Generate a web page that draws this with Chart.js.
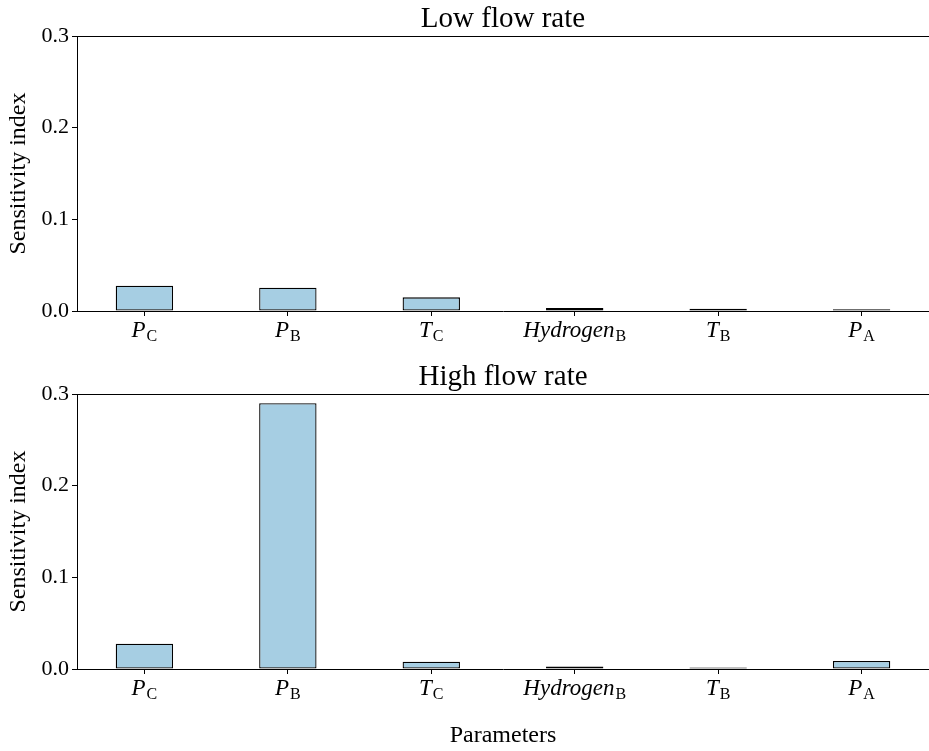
<!DOCTYPE html>
<html>
<head>
<meta charset="utf-8">
<script src="https://cdn.jsdelivr.net/npm/chart.js@4.4.1/dist/chart.umd.min.js"></script>
<style>
  html, body { margin: 0; padding: 0; background: #fff; }
  #wrap { position: relative; width: 929px; height: 751px; }
  #wrap canvas { position: absolute; left: 0; }
</style>
</head>
<body>
<div id="wrap">
  <canvas id="lowChart" width="929" height="360" style="top:0"></canvas>
  <canvas id="highChart" width="929" height="391" style="top:360px"></canvas>
</div>
<script>
// parameter names: italic symbol + roman subscript
const symbols = ['P', 'P', 'T', 'Hydrogen', 'T', 'P'];
const subscripts = ['C', 'B', 'C', 'B', 'B', 'A'];

// sensitivity indices
const lowFlow = [0.0276, 0.0254, 0.0149, 0.0033, 0.0025, 0.0020];
const highFlow = [0.0276, 0.2900, 0.0080, 0.0028, 0.0017, 0.0087];

const yTicks = [0, 0.1, 0.2, 0.3];

const FONT = '"Liberation Serif", "Times New Roman", serif';
const BAR_COLOR = '#a6cee3';

// titles, top spine, axis labels and subscripted tick labels
const decor = {
  id: 'decor',
  afterDraw(chart, args, opts) {
    const { ctx, chartArea: a, scales } = chart;
    ctx.save();
    ctx.fillStyle = '#000';
    ctx.strokeStyle = '#000';

    // top spine
    ctx.lineWidth = 1;
    ctx.beginPath();
    ctx.moveTo(a.left, a.top + 0.5);
    ctx.lineTo(a.right, a.top + 0.5);
    ctx.stroke();

    // title
    ctx.font = '29px ' + FONT;
    ctx.textAlign = 'center';
    ctx.textBaseline = 'alphabetic';
    ctx.fillText(opts.title, (a.left + a.right) / 2, a.top - 9);

    // y label
    ctx.save();
    ctx.translate(25, (a.top + a.bottom) / 2);
    ctx.rotate(-Math.PI / 2);
    ctx.font = '24px ' + FONT;
    ctx.fillText('Sensitivity index', 0, 0);
    ctx.restore();

    // x tick labels
    const x = scales.x;
    symbols.forEach((s, i) => {
      ctx.font = 'italic 23px ' + FONT;
      const w1 = ctx.measureText(s).width;
      ctx.font = '16px ' + FONT;
      const w2 = ctx.measureText(subscripts[i]).width;
      const left = x.getPixelForValue(i) - (w1 + w2 + 1) / 2;
      ctx.textAlign = 'left';
      ctx.font = 'italic 23px ' + FONT;
      ctx.fillText(s, left, a.bottom + 26);
      ctx.font = '16px ' + FONT;
      ctx.fillText(subscripts[i], left + w1 + 1, a.bottom + 30);
    });

    // x label
    if (opts.xlabel) {
      ctx.textAlign = 'center';
      ctx.font = '24px ' + FONT;
      ctx.fillText(opts.xlabel, (a.left + a.right) / 2, a.bottom + 73);
    }
    ctx.restore();
  }
};

function makeChart(id, values, title, xlabel, topPad, xHeight) {
  return new Chart(document.getElementById(id), {
    type: 'bar',
    data: {
      datasets: [{
        data: values.map((v, i) => ({ x: i, y: v })),
        backgroundColor: BAR_COLOR,
        borderColor: '#000',
        borderWidth: 1.3,
        borderSkipped: false,
        categoryPercentage: 1,
        barPercentage: 0.4
      }]
    },
    options: {
      responsive: false,
      animation: false,
      layout: { padding: { top: topPad, left: 0, right: 0, bottom: 0 } },
      plugins: {
        legend: { display: false },
        tooltip: { enabled: false },
        decor: { title, xlabel }
      },
      scales: {
        x: {
          type: 'linear',
          offset: false,
          min: -0.47,
          max: 5.47,
          afterBuildTicks: s => { s.ticks = symbols.map((_, i) => ({ value: i })); },
          afterFit: s => { s.height = xHeight; },
          ticks: { callback: () => '', padding: 0 },
          grid: { offset: false, drawOnChartArea: false, drawTicks: true, tickLength: 5, color: '#000' },
          border: { display: true, color: '#000', width: 1 }
        },
        y: {
          min: 0,
          max: 0.3,
          afterBuildTicks: s => { s.ticks = yTicks.map(v => ({ value: v })); },
          afterFit: s => { s.width = 77; },
          ticks: {
            callback: v => v.toFixed(1),
            color: '#000',
            font: { family: FONT, size: 22 },
            padding: 3
          },
          grid: { drawOnChartArea: false, drawTicks: true, tickLength: 5, color: '#000' },
          border: { display: true, color: '#000', width: 1 }
        }
      }
    },
    plugins: [decor]
  });
}

makeChart('lowChart', lowFlow, 'Low flow rate', null, 36, 49);
makeChart('highChart', highFlow, 'High flow rate', 'Parameters', 34, 82);
</script>
</body>
</html>
